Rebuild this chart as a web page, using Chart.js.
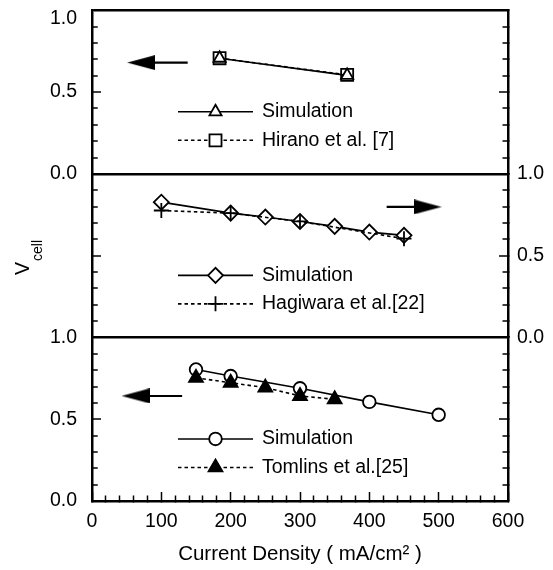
<!DOCTYPE html>
<html>
<head>
<meta charset="utf-8">
<script src="https://cdn.jsdelivr.net/npm/chart.js@4/dist/chart.umd.min.js"></script>
<style>
html, body { margin: 0; padding: 0; background: #fff; }
</style>
</head>
<body>
<canvas id="vcell" width="553" height="570"></canvas>
<script>
// top panel, Hirano et al. [7]
const hiranoX = [184, 368];
const hiranoSim = [0.707, 0.602];
const hiranoExp = [0.707, 0.605];

// middle panel, Hagiwara et al.[22]
const hagiSimX = [100, 200, 250, 300, 350, 400, 450];
const hagiSim = [0.827, 0.76, 0.736, 0.709, 0.679, 0.644, 0.624];
const hagiExpX = [100, 200, 300, 450];
const hagiExp = [0.776, 0.76, 0.709, 0.604];

// bottom panel, Tomlins et al.[25]
const tomSimX = [150, 200, 300, 400, 500];
const tomSim = [0.804, 0.764, 0.689, 0.606, 0.527];
const tomExpX = [150, 200, 250, 300, 350];
const tomExp = [0.753, 0.723, 0.693, 0.642, 0.622];

// arrows (tail, head centre) showing which axis a panel uses
const arrowTopX = [138, 71];
const arrowTopY = [0.68, 0.68];
const arrowMidX = [425, 484];
const arrowMidY = [0.798, 0.798];
const arrowBotX = [130, 63];
const arrowBotY = [0.642, 0.642];

const black = '#000';
const family = "'Liberation Sans', Arial, sans-serif";
const font = { family: family, size: 19.5 };
Chart.defaults.font.family = family;
Chart.defaults.color = black;

const pts = (xs, ys) => xs.map((x, i) => ({ x: x, y: ys[i] }));
const isMajor = v => Math.round(v * 10) % 5 === 0;

// arrow head used as point style
const head = document.createElement('canvas');
head.width = 28; head.height = 15;
const hc = head.getContext('2d');
hc.fillStyle = black;
hc.beginPath(); hc.moveTo(0, 0); hc.lineTo(28, 7.5); hc.lineTo(0, 15); hc.closePath(); hc.fill();

function yAxis(side, weight, showLabels, frameVals, pad, lineH) {
  return {
    type: 'linear', position: side, stack: 'panels', weight: weight,
    min: 0, max: 1,
    border: { color: black, width: 2.5 },
    grid: {
      drawOnChartArea: side === 'left',
      color: black,
      lineWidth: c => frameVals.includes(c.tick.value) ? 2.5 : 0,
      tickLength: -9, tickColor: black, tickWidth: 1.5,
      tickBorderDash: c => isMajor(c.tick.value) ? [] : (side === 'left' ? [7, 3.25] : [7, 20]),
      tickBorderDashOffset: side === 'left' ? 7 : 0
    },
    ticks: {
      stepSize: 0.1, autoSkip: false, padding: pad, font: Object.assign({}, font, { lineHeight: lineH || 1.2 }),
      color: black,
      display: showLabels,
      callback: v => {
        if (!isMajor(v)) return '';
        if (side === 'left' && weight === 3 && v === 1) return ['', v.toFixed(1)];
        return v.toFixed(1);
      }
    },
    afterFit: s => { s.width = side === 'left' ? 92 : 45; s.paddingTop = 0; s.paddingBottom = 0; }
  };
}

function series(label, row, xs, ys, axis, style) {
  return Object.assign({
    label: label, legendRow: row, yAxisID: axis,
    data: pts(xs, ys),
    borderColor: black, borderWidth: 1.6,
    pointBorderColor: black, pointBorderWidth: 1.8, pointBackgroundColor: '#fff',
    fill: false, tension: 0
  }, style);
}

function arrow(xs, ys, axis, rot) {
  return {
    yAxisID: axis, data: pts(xs, ys),
    borderColor: black, borderWidth: 2.2,
    pointRadius: [0, 5], pointStyle: head, pointRotation: rot, order: 0
  };
}

const datasets = [
  series('Simulation', 0, hiranoX, hiranoSim, 'yTop', { pointStyle: 'triangle', pointRadius: 7, order: 1 }),
  series('Hirano et al. [7]', 1, hiranoX, hiranoExp, 'yTop', { pointStyle: 'rect', pointRadius: 8.5, borderDash: [3.5, 3], order: 2 }),
  series('Simulation', 0, hagiSimX, hagiSim, 'yMidR', { pointStyle: 'rectRot', pointRadius: 7.5, order: 2 }),
  series('Hagiwara et al.[22]', 1, hagiExpX, hagiExp, 'yMidR', { pointStyle: 'cross', pointRadius: 7.5, borderDash: [3.5, 3], order: 1 }),
  series('Simulation', 0, tomSimX, tomSim, 'yBot', { pointStyle: 'circle', pointRadius: 6.3, order: 2 }),
  series('Tomlins et al.[25]', 1, tomExpX, tomExp, 'yBot', { pointStyle: 'triangle', pointRadius: 8, pointBackgroundColor: black, borderDash: [3.5, 3], order: 1 }),
  arrow(arrowTopX, arrowTopY, 'yTop', 180),
  arrow(arrowMidX, arrowMidY, 'yMidR', 0),
  arrow(arrowBotX, arrowBotY, 'yBot', 180)
];

// legends inside each panel
const panelLegend = {
  id: 'panelLegend',
  afterDatasetsDraw(chart) {
    const ctx = chart.ctx;
    const left = chart.chartArea.left;
    const rowY = [101.5, 130];
    chart.data.datasets.forEach(ds => {
      if (!ds.label) return;
      const y = chart.scales[ds.yAxisID].top + rowY[ds.legendRow];
      ctx.save();
      ctx.strokeStyle = black;
      ctx.lineWidth = ds.borderWidth;
      ctx.setLineDash(ds.borderDash || []);
      ctx.beginPath(); ctx.moveTo(left + 86, y); ctx.lineTo(left + 161, y); ctx.stroke();
      ctx.setLineDash([]);
      ctx.fillStyle = ds.pointBackgroundColor;
      ctx.lineWidth = ds.pointBorderWidth;
      Chart.helpers.drawPoint(ctx, { pointStyle: ds.pointStyle, radius: ds.pointRadius, rotation: 0, borderWidth: ds.pointBorderWidth }, left + 123.5, y);
      ctx.fillStyle = black;
      ctx.font = '19.5px ' + family;
      ctx.textAlign = 'left'; ctx.textBaseline = 'middle';
      ctx.fillText(ds.label, left + 170, y);
      ctx.restore();
    });
  }
};

// y title with subscript
const vTitle = {
  id: 'vTitle',
  afterDraw(chart) {
    const ctx = chart.ctx;
    ctx.save();
    ctx.translate(29, 275);
    ctx.rotate(-Math.PI / 2);
    ctx.fillStyle = black;
    ctx.textAlign = 'left'; ctx.textBaseline = 'alphabetic';
    ctx.font = '19.5px ' + family;
    ctx.fillText('V', 0, 0);
    const w = ctx.measureText('V').width;
    ctx.font = '14px ' + family;
    ctx.fillText('cell', w + 1, 13);
    ctx.restore();
  }
};

new Chart(document.getElementById('vcell'), {
  type: 'line',
  data: { datasets: datasets },
  options: {
    responsive: false, animation: false, events: [],
    layout: { padding: { top: 6, left: 0, right: 0, bottom: 0 } },
    plugins: { legend: { display: false }, tooltip: { enabled: false } },
    scales: {
      x: {
        type: 'linear', position: 'bottom', min: 0, max: 600,
        border: { color: black, width: 2.5 },
        grid: {
          drawOnChartArea: false, tickLength: -9, tickColor: black, tickWidth: 1.5,
          tickBorderDash: c => c.tick.value % 100 === 0 ? [] : [7, 20]
        },
        ticks: { stepSize: 20, autoSkip: false, maxRotation: 0, padding: 18, font: font, color: black,
          callback: v => v % 100 === 0 ? String(v) : '' },
        title: { display: true, text: 'Current Density ( mA/cm\u00B2 )', font: { family: family, size: 20.5 }, color: black, padding: { top: 0, bottom: 3 } },
        afterFit: s => { s.height = 69; }
      },
      yTop: yAxis('left', 3, true, [0, 1], 24, 0.9),
      yMid: yAxis('left', 2, false, [0], 24),
      yBot: yAxis('left', 1, true, [], 24),
      yTopR: yAxis('right', 1, false, [], 18),
      yMidR: yAxis('right', 2, true, [], 18),
      yBotR: yAxis('right', 3, false, [], 18)
    }
  },
  plugins: [panelLegend, vTitle]
});
</script>
</body>
</html>
